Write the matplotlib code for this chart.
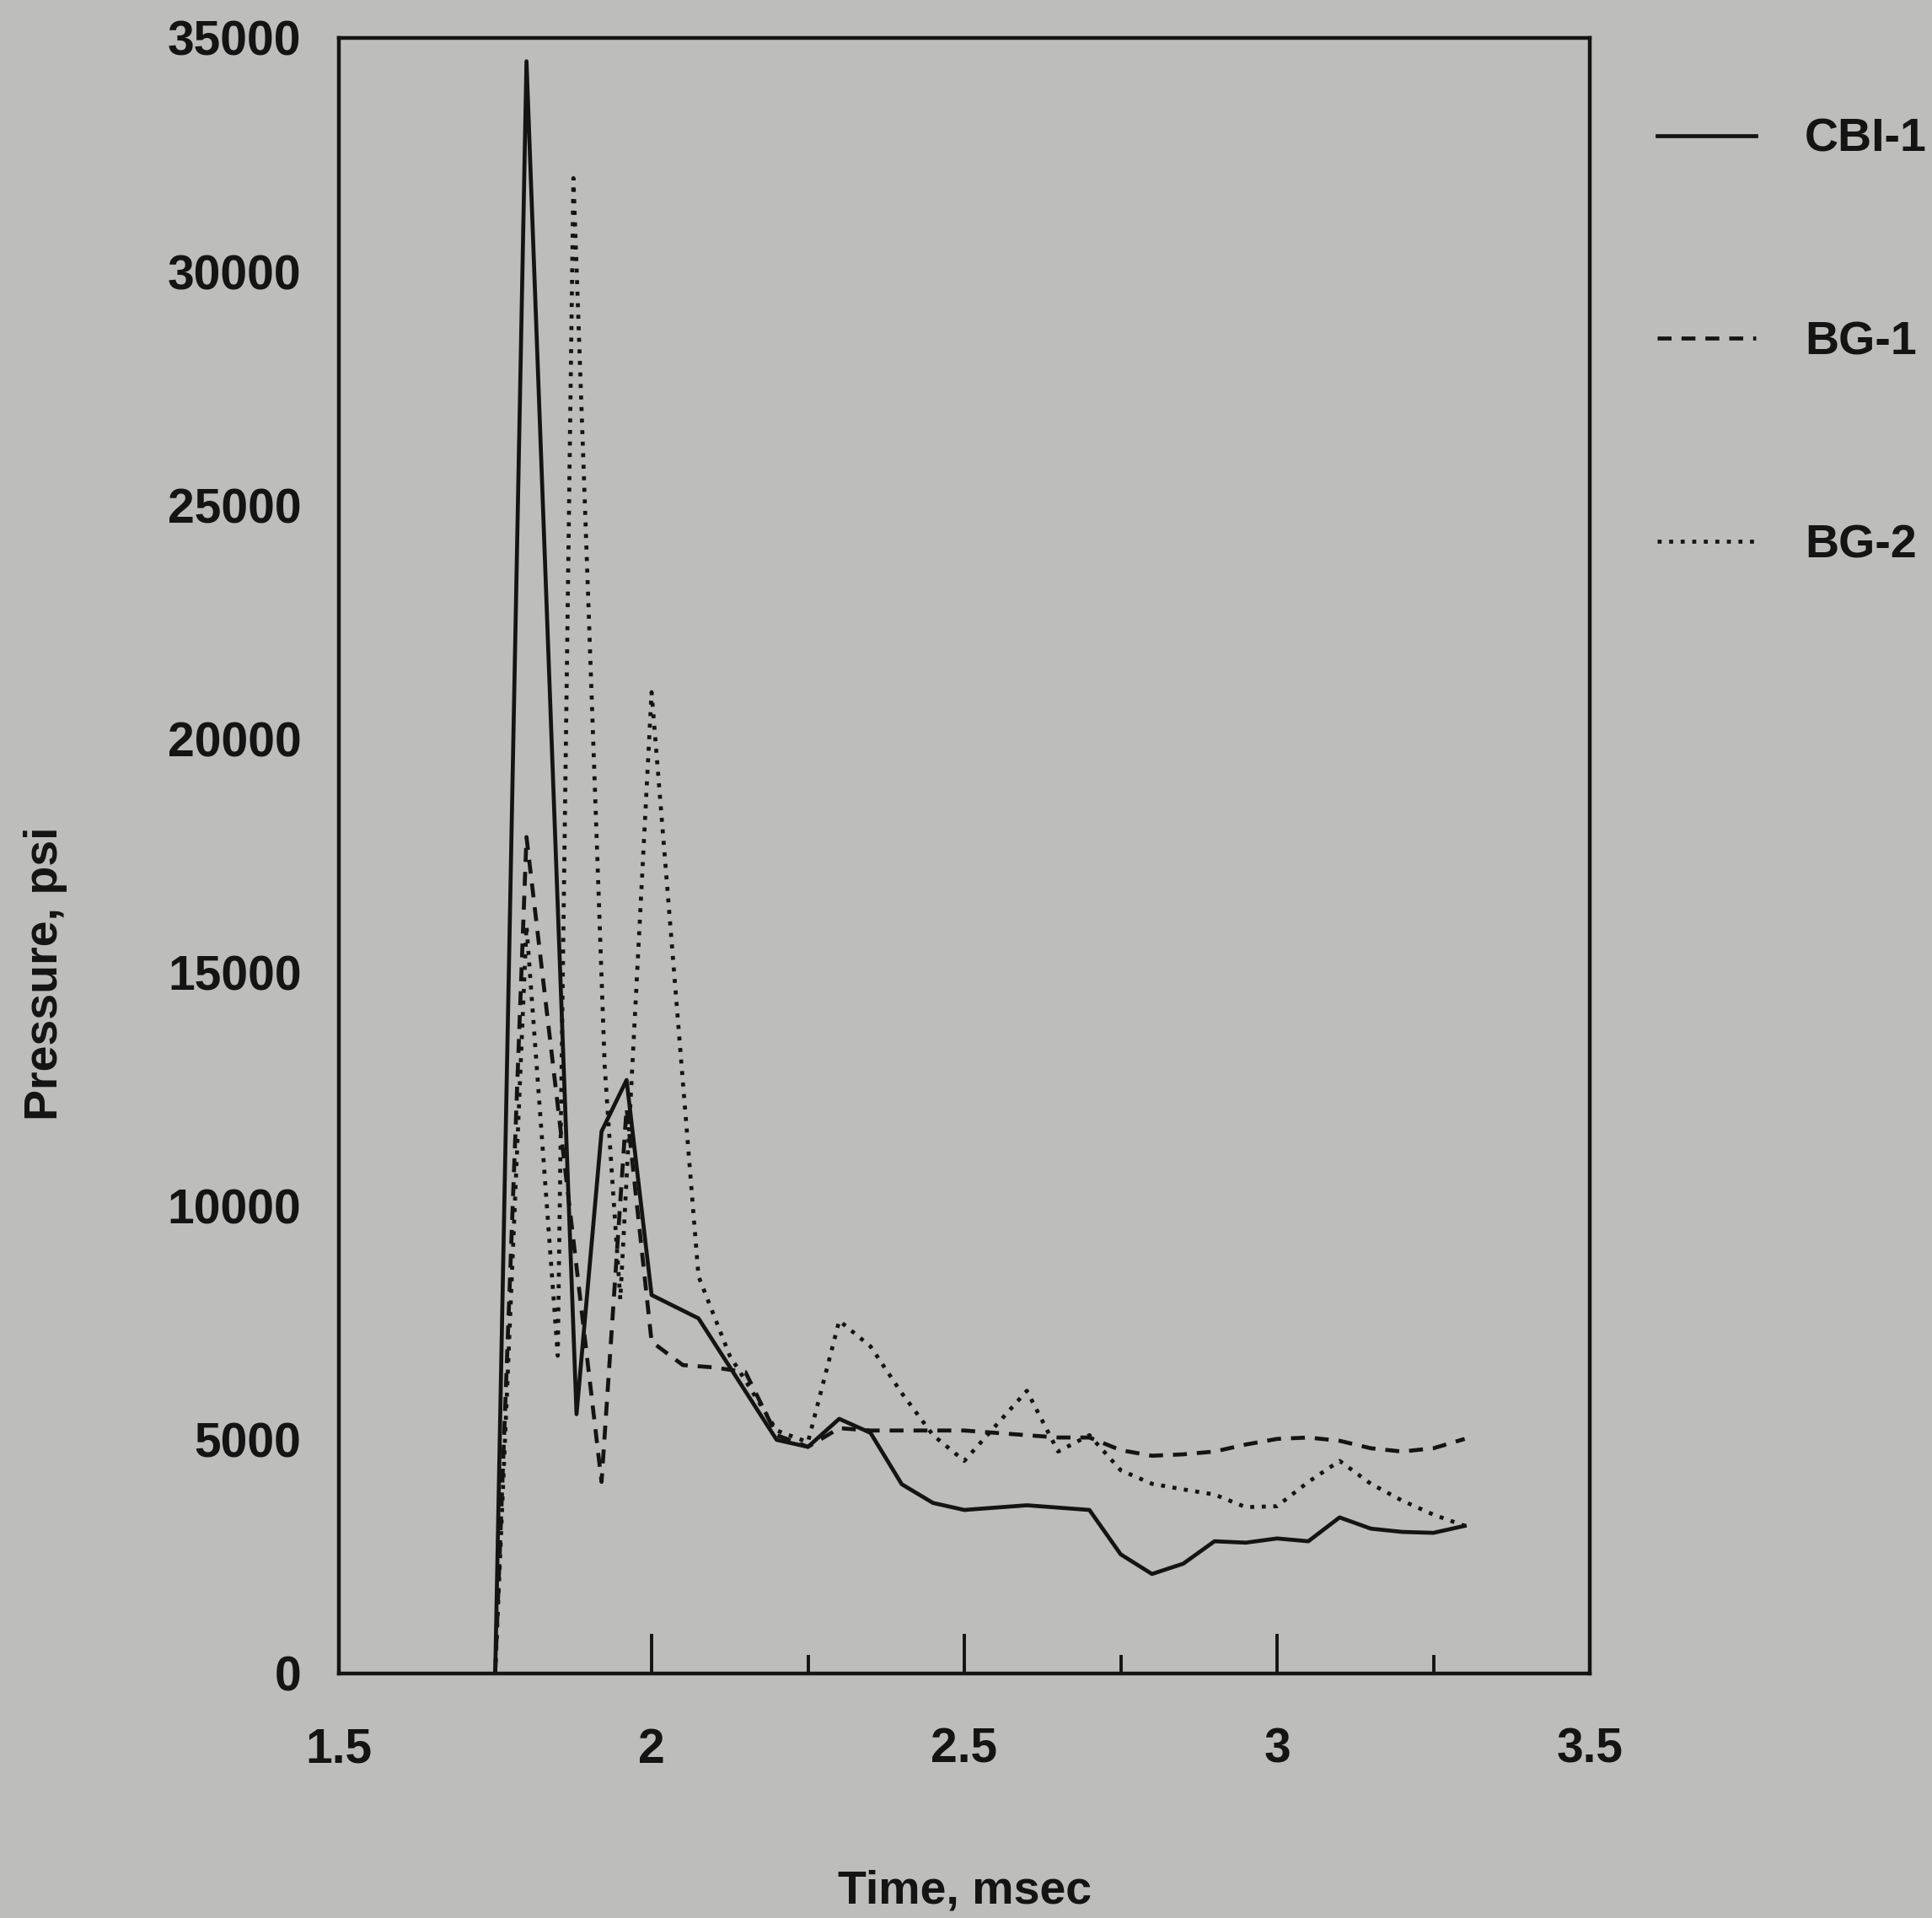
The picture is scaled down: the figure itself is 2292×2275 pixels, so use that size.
import matplotlib
matplotlib.use("Agg")
import matplotlib.pyplot as plt
from matplotlib.ticker import MultipleLocator

# ---- data (time in msec, pressure in psi) ----
cbi_t = [1.75, 1.80, 1.88, 1.92, 1.96, 2.0, 2.075, 2.2, 2.25, 2.3, 2.35, 2.4, 2.45,
         2.5, 2.6, 2.7, 2.75, 2.8, 2.85, 2.9, 2.95, 3.0, 3.05, 3.1, 3.15, 3.2, 3.25, 3.3]
cbi_p = [0, 34500, 5550, 11600, 12700, 8100, 7600, 5000, 4850, 5450, 5150, 4050, 3650,
         3500, 3600, 3500, 2550, 2130, 2350, 2830, 2800, 2890, 2830, 3340, 3100, 3030, 3010, 3160]

bg1_t = [1.75, 1.80, 1.92, 1.96, 2.0, 2.05, 2.1, 2.15, 2.2, 2.25, 2.3, 2.35, 2.4, 2.45,
         2.5, 2.55, 2.6, 2.65, 2.7, 2.75, 2.8, 2.85, 2.9, 2.95, 3.0, 3.05, 3.1, 3.15,
         3.2, 3.25, 3.3]
bg1_p = [0, 17900, 4100, 12100, 7100, 6600, 6550, 6450, 5100, 4850, 5250, 5200, 5200, 5200,
         5200, 5150, 5100, 5050, 5050, 4780, 4660, 4690, 4750, 4900, 5020, 5050, 4980, 4820,
         4750, 4820, 5020]

bg2_t = [1.75, 1.80, 1.85, 1.875, 1.925, 1.95, 2.0, 2.075, 2.125, 2.2, 2.25, 2.3, 2.35,
         2.4, 2.45, 2.5, 2.55, 2.6, 2.65, 2.7, 2.75, 2.8, 2.85, 2.9, 2.95, 3.0, 3.05,
         3.1, 3.15, 3.2, 3.25, 3.3]
bg2_p = [0, 16000, 6800, 32000, 13000, 8000, 21000, 8500, 6800, 5200, 4950, 7550, 7000,
         6000, 5100, 4550, 5300, 6050, 4750, 5100, 4350, 4060, 3940, 3830, 3560, 3580, 4100,
         4550, 4060, 3700, 3400, 3160]

series_labels = ["CBI-1", "BG-1", "BG-2"]
x_ticks = [1.5, 2, 2.5, 3, 3.5]
x_ticklabels = ["1.5", "2", "2.5", "3", "3.5"]
y_ticks = [0, 5000, 10000, 15000, 20000, 25000, 30000, 35000]

# ---- style ----
BG = "#bdbebb"
INK = "#141414"
FS = 41
FS_LAB = 40
plt.rcParams['font.family'] = ['Liberation Sans', 'DejaVu Sans']
plt.rcParams['font.weight'] = 'bold'

fig = plt.figure(figsize=(22.92, 22.75), dpi=100, facecolor=BG)
ax = fig.add_axes([402/2292, 1 - 1985/2275, (1886-402)/2292, (1985-45)/2275])
ax.set_facecolor(BG)

lw = 3.4
ax.plot(cbi_t, cbi_p, color=INK, lw=lw, linestyle='-', label=series_labels[0])
ax.plot(bg1_t, bg1_p, color=INK, lw=lw, linestyle=(0, (3.5, 2.5)), label=series_labels[1])
ax.plot(bg2_t, bg2_p, color=INK, lw=lw, linestyle=(0, (1.0, 1.9)), label=series_labels[2])

ax.set_xlim(1.5, 3.5)
ax.set_ylim(0, 35000)
ax.set_xticks(x_ticks)
ax.set_xticklabels(x_ticklabels)
ax.xaxis.set_minor_locator(MultipleLocator(0.25))
ax.set_yticks(y_ticks)
ax.set_yticklabels([str(v) for v in y_ticks])

ax.tick_params(axis='x', which='major', direction='in', length=34, width=2.8,
               pad=46, labelsize=FS, colors=INK)
ax.tick_params(axis='x', which='minor', direction='in', length=16, width=2.8, colors=INK)
ax.tick_params(axis='y', which='both', length=0, pad=32, labelsize=FS, colors=INK)
ax.tick_params(axis='x', which='both', top=False)
ax.tick_params(axis='y', which='both', right=False)

for s in ax.spines.values():
    s.set_linewidth(3.2)
    s.set_color(INK)

ax.set_xlabel("Time, msec", fontsize=FS_LAB, color=INK, fontweight='bold')
ax.xaxis.set_label_coords(0.5, -0.12)
ax.set_ylabel("Pressure, psi", fontsize=FS_LAB, color=INK, fontweight='bold')
ax.yaxis.set_label_coords(-0.217, 0.428)

leg = fig.legend(loc='upper left', bbox_to_anchor=(1966/2292, 1 - 140/2275),
                 frameon=False, fontsize=FS_LAB, handlelength=2.1, handletextpad=1.05,
                 labelspacing=3.4, borderpad=0, borderaxespad=0)
for t in leg.get_texts():
    t.set_color(INK)
    t.set_fontweight('bold')

fig.savefig("out.png", dpi=100, facecolor=BG)
